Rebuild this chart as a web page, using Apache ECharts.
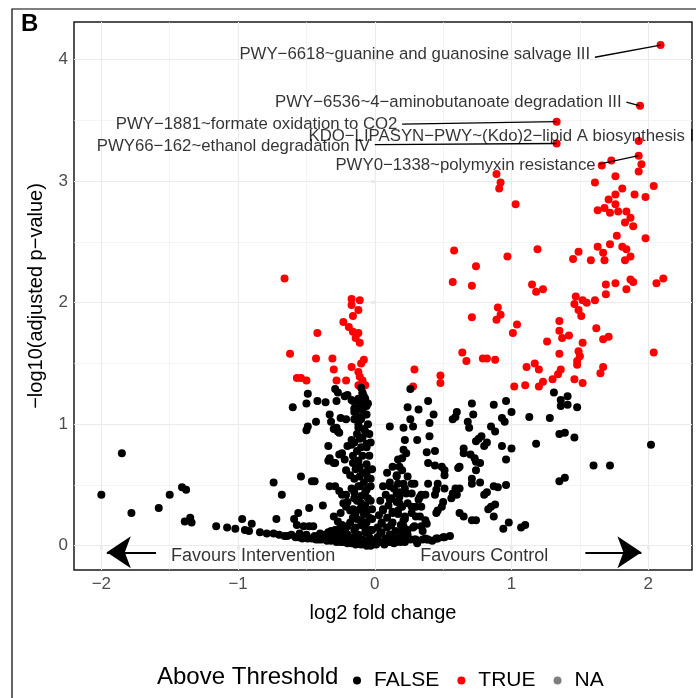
<!DOCTYPE html>
<html><head><meta charset="utf-8">
<script src="https://cdn.jsdelivr.net/npm/echarts@6/dist/echarts.min.js"></script>
<style>html,body{margin:0;padding:0;background:#fff}#c{width:696px;height:698px}</style>
</head><body><div id="c"></div>
<script>
const xTicks = [-2, -1, 0, 1, 2];
const yTicks = [0, 1, 2, 3, 4];
const xMinor = [-1.5, -0.5, 0.5, 1.5];
const yMinor = [0.5, 1.5, 2.5, 3.5];
const legendNames = ['FALSE', 'TRUE', 'NA'];

const trueVals = [
[2.09,4.12],[1.94,3.62],[1.33,3.49],[1.93,3.33],[1.33,3.31],[1.93,3.21],
[1.95,3.14],[1.93,3.08],[1.66,3.13],[1.73,3.17],[0.89,3.06],[0.92,2.99],[0.91,2.94],[1.03,2.81],[1.61,2.99],[1.76,3.04],[2.04,2.96],[1.81,2.94],[1.76,2.89],[1.90,2.89],[1.98,2.87],[1.71,2.85],[1.68,2.78],[1.76,2.81],[1.63,2.76],[1.72,2.74],[1.78,2.75],[1.84,2.75],[1.87,2.70],[1.83,2.66],[1.89,2.63],[1.77,2.55],[1.98,2.53],
[0.58,2.43],[1.19,2.44],[0.74,2.30],[0.97,2.38],[1.63,2.46],[1.72,2.48],[1.81,2.46],[1.84,2.44],[1.67,2.41],[1.49,2.42],[1.45,2.36],[1.58,2.35],[1.68,2.35],[1.87,2.38],[1.83,2.35],
[0.57,2.17],[0.71,2.14],[1.15,2.15],[1.18,2.09],[1.23,2.11],[1.69,2.15],[1.76,2.16],[1.69,2.07],[1.87,2.19],[1.89,2.17],[1.84,2.11],[2.06,2.16],[2.11,2.20],
[1.47,2.05],[1.46,1.99],[1.52,2.02],[1.55,2.00],[1.61,2.02],[1.49,1.94],[1.51,1.89],[1.35,1.85],[1.35,1.77],[1.37,1.71],[1.42,1.73],[1.62,1.79],[1.67,1.70],[1.71,1.72],[1.52,1.67],[1.26,1.68],
[0.90,1.96],[0.92,1.90],[0.89,1.86],[0.71,1.88],[1.04,1.82],[1.01,1.75],[2.04,1.59],
[0.64,1.59],[0.67,1.52],[0.79,1.54],[0.82,1.54],[0.88,1.53],[1.11,1.47],[1.17,1.50],[1.20,1.45],[1.35,1.58],[1.49,1.60],[1.50,1.56],[1.48,1.52],[1.48,1.49],[1.67,1.47],[1.65,1.42],[1.36,1.45],[1.34,1.41],[1.30,1.37],[1.46,1.37],[1.52,1.34],[1.23,1.35],[1.20,1.31],[1.10,1.32],[1.02,1.31],
[0.29,1.45],[0.28,1.31],[0.48,1.40],[0.48,1.34],
[-0.17,2.03],[-0.11,2.02],[-0.17,1.98],[-0.12,1.94],[-0.16,1.89],[-0.23,1.84],[-0.19,1.80],[-0.16,1.76],[-0.12,1.75],[-0.14,1.71],[-0.11,1.67],[-0.42,1.75],[-0.43,1.54],[-0.31,1.54],[-0.08,1.53],[-0.10,1.50],[-0.17,1.47],[-0.30,1.45],[-0.12,1.43],[-0.11,1.39],[-0.09,1.36],[-0.07,1.32],[-0.12,1.32],[-0.21,1.36],[-0.28,1.36],[-0.57,1.38],[-0.54,1.38],[-0.50,1.36],[-0.62,1.58],[-0.66,2.20]
];

const falseVals = [
[-2.00,0.42],[-1.85,0.76],[-1.78,0.27],[-1.58,0.31],[-1.50,0.42],[-1.41,0.48],[-1.38,0.46],[-1.39,0.20],[-1.35,0.23],[-1.34,0.19],[-1.16,0.16],[-1.08,0.15],[-1.02,0.14],[-0.97,0.22],[-0.95,0.13],[-0.92,0.12],[-0.90,0.18],[-0.84,0.11],[-0.79,0.10],[-0.74,0.10],[-0.74,0.52],[-0.68,0.42],[-0.72,0.22],[-0.66,0.08],[-0.61,0.09],[-0.60,1.14],[-0.59,0.22],[-0.57,0.17],[-0.56,0.27],[-0.54,0.57],[-0.56,0.07],[-0.51,0.07],[-0.48,0.31],[-0.46,0.53],[-0.44,0.53],[-0.46,0.06],[-0.43,0.05],[-0.52,0.16],[-0.48,0.16],[-0.45,0.16],[-0.38,0.33],[-0.39,0.05],[-0.34,0.11],[-0.32,0.12],[-0.37,0.07],[-0.30,0.05],[-0.26,0.14],[-0.25,0.27],[-0.23,0.35],[-0.21,0.32],[-0.21,0.10],[-0.23,0.03],[-0.26,0.45],[-0.24,0.42],[-0.33,0.49],[-0.29,0.49],[-0.34,0.70],[-0.30,0.68],[-0.26,0.75],[-0.34,0.82],[-0.20,0.82],[-0.30,0.96],[-0.28,0.97],[-0.27,0.94],[-0.32,1.02],[-0.33,1.08],[-0.25,1.05],[-0.21,1.04],[-0.43,1.02],[-0.50,0.95],[-0.49,0.98],[-0.50,1.17],[-0.49,1.25],[-0.42,1.19],[-0.36,1.18],[-0.29,1.29],[-0.27,1.26],[-0.22,1.23],
[-0.70,0.09],[-0.64,0.08],[-0.58,0.07],[-0.53,0.06],[-0.49,0.06],[-0.41,0.05],[-0.35,0.04],[-0.32,0.04],[-0.28,0.03],[-0.25,0.03],[-0.20,0.02],[-0.17,0.02],[-0.14,0.01],[-0.10,0.01],[-0.06,0.00],[-0.03,0.00],
[-0.55,0.10],[-0.50,0.09],[-0.44,0.08],[-0.40,0.10],[-0.36,0.09],[-0.31,0.08],[-0.27,0.07],[-0.24,0.06],
[-0.10,1.30],[-0.09,1.26],[-0.08,1.23],[-0.07,1.19],[-0.06,1.15],[-0.12,1.17],[-0.15,1.13],[-0.20,1.24],[-0.17,1.20],[-0.16,1.19],[-0.15,1.10],[-0.11,1.06],[-0.07,1.08],[-0.12,0.97],[-0.07,0.94],[-0.17,0.87],[-0.11,0.88],[-0.17,0.83],[-0.06,0.84],[-0.24,0.76],[-0.22,0.71],[-0.16,0.68],[-0.11,0.65],[-0.05,0.62],[-0.21,0.62],[-0.18,0.58],[-0.11,0.57],[-0.05,0.56],[-0.17,0.47],[-0.11,0.49],[-0.06,0.46],[-0.21,0.42],[-0.15,0.39],[-0.05,0.39],[-0.20,0.36],[-0.10,0.35],[-0.18,0.29],[-0.14,0.27],[-0.06,0.28],[-0.16,0.23],[-0.10,0.21],[-0.04,0.23],[-0.20,0.16],[-0.14,0.15],[-0.08,0.16],[-0.04,0.13],
[-0.28,1.19],[-0.07,1.16],[-0.26,0.93],[-0.33,0.72],[-0.29,0.68],
[-0.09,1.25],[-0.07,1.21],[-0.12,1.21],[-0.05,1.17],[-0.09,1.12],[-0.13,1.12],[-0.06,1.08],[-0.10,1.04],[-0.15,1.04],[-0.05,1.00],[-0.12,1.00],[-0.08,0.96],[-0.13,0.92],[-0.04,0.92],[-0.09,0.89],[-0.15,0.85],[-0.03,0.85],[-0.10,0.81],[-0.06,0.81],[-0.13,0.78],[-0.04,0.74],[-0.16,0.74],[-0.09,0.74],[-0.12,0.70],[-0.06,0.67],[-0.14,0.63],[-0.02,0.63],[-0.09,0.60],[-0.15,0.55],[-0.03,0.55],[-0.08,0.52],[-0.12,0.49],[-0.03,0.49],[-0.15,0.44],[-0.07,0.44],[-0.10,0.41],[-0.03,0.37],[-0.13,0.37],[-0.07,0.33],[-0.16,0.30],[-0.11,0.30],[-0.02,0.30],[-0.08,0.26],[-0.13,0.22],[-0.02,0.22],[-0.18,0.19],[-0.06,0.19],[-0.10,0.17],[-0.15,0.13],[-0.02,0.13],[-0.07,0.11],[-0.12,0.09],[-0.20,0.09],[-0.04,0.07],[-0.16,0.07],[-0.09,0.05],[-0.13,0.03],[-0.05,0.03],[-0.01,0.02],
[-0.30,0.24],[-0.27,0.20],[-0.24,0.17],[-0.29,0.13],[-0.22,0.12],[-0.26,0.09],[-0.19,0.06],[-0.23,0.05],
[0.13,0.65],[0.09,0.60],[0.16,0.58],[0.11,0.52],[0.06,0.49],[0.14,0.47],[0.18,0.44],[0.08,0.42],[0.12,0.39],[0.04,0.37],[0.16,0.36],[0.10,0.33],[0.20,0.32],[0.06,0.30],[0.13,0.28],[0.03,0.25],[0.17,0.26],[0.09,0.23],[0.22,0.22],[0.05,0.19],[0.13,0.19],[0.19,0.17],[0.02,0.15],[0.09,0.15],[0.15,0.12],[0.24,0.13],[0.05,0.11],[0.11,0.09],[0.20,0.09],[0.02,0.07],[0.08,0.06],[0.15,0.06],[0.26,0.05],[0.04,0.03],[0.11,0.03],[0.19,0.03],[0.01,0.01],[0.07,0.01],[0.14,0.02],
[0.18,0.65],[0.16,0.57],[0.21,0.51],[0.11,0.49],[0.27,0.51],[0.16,0.43],[0.23,0.43],[0.33,0.40],[0.11,0.38],[0.18,0.35],[0.27,0.32],[0.06,0.29],[0.13,0.27],[0.22,0.24],[0.30,0.24],[0.37,0.21],[0.05,0.18],[0.12,0.17],[0.21,0.16],[0.28,0.15],[0.34,0.16],[0.04,0.10],[0.11,0.09],[0.18,0.07],[0.24,0.06],[0.30,0.05],[0.38,0.05],[0.46,0.06],[0.51,0.07],[0.01,0.05],[0.09,0.03],[0.16,0.03],
[0.17,0.71],[0.20,0.62],[0.24,0.57],[0.17,0.51],[0.22,0.47],[0.29,0.51],[0.27,0.43],[0.18,0.40],[0.32,0.38],[0.24,0.35],[0.37,0.42],[0.34,0.32],[0.17,0.29],[0.27,0.27],[0.21,0.21],[0.33,0.24],[0.38,0.18],[0.29,0.16],[0.20,0.13],[0.24,0.09],[0.35,0.12],[0.22,0.03],[0.29,0.05],
[0.26,1.29],[0.39,1.19],[0.24,1.14],[0.32,1.12],[0.43,1.08],[0.26,1.04],[0.40,1.01],[0.28,0.98],[0.71,1.17],[0.60,1.10],[0.59,1.06],[0.57,1.04],[0.72,1.08],[0.68,1.02],[0.69,0.97],[0.87,1.16],[0.96,1.19],[0.93,1.05],[0.95,1.02],[0.85,0.98],[0.88,0.94],[0.22,0.87],[0.31,0.87],[0.40,0.90],[0.21,0.79],[0.23,0.76],[0.20,0.72],[0.38,0.77],[0.44,0.78],[0.39,0.68],[0.44,0.66],[0.49,0.65],[0.51,0.62],[0.51,0.58],[0.65,0.80],[0.65,0.76],[0.73,0.72],[0.74,0.69],[0.77,0.68],[0.76,0.88],[0.78,0.90],[0.74,0.86],[0.82,0.85],[0.80,0.82],[0.93,0.82],[0.96,0.71],[1.00,0.80],[0.62,0.65],[0.74,0.62],[0.71,0.55],[0.71,0.51],[0.77,0.52],[0.39,0.51],[0.46,0.51],[0.45,0.46],[0.51,0.47],[0.44,0.42],[0.50,0.36],[0.49,0.32],[0.45,0.27],[0.56,0.39],[0.57,0.43],[0.62,0.47],[0.60,0.42],[0.80,0.42],[0.82,0.44],[0.87,0.49],[0.90,0.48],[0.96,0.50],[0.85,0.32],[0.88,0.34],[0.87,0.24],[0.94,0.14],[0.62,0.27],[0.65,0.24],[0.71,0.21],[0.74,0.21],[0.37,0.06],[0.39,0.05],[0.45,0.06],[0.50,0.07],
[1.31,1.26],[1.36,1.20],[1.36,1.15],[1.41,1.23],[1.41,1.16],[1.48,1.14],[1.13,1.06],[1.28,1.05],[1.35,0.92],[1.39,0.93],[1.46,0.89],[1.18,0.84],[2.02,0.83],[1.60,0.66],[1.72,0.66],[1.35,0.53],[1.39,0.56],[1.00,1.10],[0.98,0.19],[1.07,0.15],[1.10,0.17],[0.83,0.30],[0.61,0.64],[0.70,0.75],[0.59,0.47],[0.46,0.29],[0.34,0.42],[0.30,0.32],[0.21,0.97],[0.11,0.98],
[0.35,0.05],[0.42,0.04],[0.55,0.08],[0.31,0.02]
];
const naVals = [];

const labelNames = [
  'PWY\u22126618~guanine and guanosine salvage III',
  'PWY\u22126536~4\u2212aminobutanoate degradation III',
  'PWY\u22121881~formate oxidation to CO2',
  'KDO\u2212LIPASYN\u2212PWY~(Kdo)2\u2212lipid A biosynthesis I',
  'PWY66\u2212162~ethanol degradation IV',
  'PWY0\u22121338~polymyxin resistance'
];
const labelAt = [[1.59,4.04],[1.82,3.65],[0.18,3.47],[-0.50,3.37],[-0.02,3.29],[1.63,3.13]];
const labelSide = ['left','left','left','right','left','left'];
const segFrom = [[1.61,4.02],[1.84,3.65],[0.20,3.47],null,[0.00,3.30],[1.64,3.14]];
const segTo = [[2.09,4.12],[1.94,3.62],[1.33,3.49],null,[1.33,3.31],[1.93,3.21]];

const noteTexts = ['Favours Intervention', 'Favours Control'];
const noteAt = [[-0.89,-0.085],[0.80,-0.085]];
const arrowFrom = [[-1.60,-0.054],[1.54,-0.054]];
const arrowTo = [[-1.96,-0.054],[1.95,-0.054]];

const FONT = '"Liberation Sans", Arial, Helvetica, sans-serif';
const minus = v => (v < 0 ? '\u2212' + Math.abs(v) : String(v));

const gridLines = [];
xTicks.forEach(v => gridLines.push({xAxis: v, lineStyle: {width: 1.1, color: '#EBEBEB', type: 'solid'}}));
yTicks.forEach(v => gridLines.push({yAxis: v, lineStyle: {width: 1.1, color: '#EBEBEB', type: 'solid'}}));
xMinor.forEach(v => gridLines.push({xAxis: v, lineStyle: {width: 0.6, color: '#EDEDED', type: 'solid'}}));
yMinor.forEach(v => gridLines.push({yAxis: v, lineStyle: {width: 0.6, color: '#EDEDED', type: 'solid'}}));

const segs = [];
segFrom.forEach((f, i) => { if (f) segs.push({coords: [f, segTo[i]]}); });

const chart = echarts.init(document.getElementById('c'), null, {renderer: 'canvas'});
chart.setOption({
  animation: false,
  backgroundColor: '#fff',
  textStyle: {fontFamily: FONT},
  grid: {left: 74, right: 4, top: 22, bottom: 128, show: true, borderColor: '#1a1a1a', borderWidth: 1.5, backgroundColor: '#fff'},
  xAxis: {
    type: 'value', min: -2.2, max: 2.32,
    axisLine: {show: false},
    axisTick: {show: true, length: 4, customValues: xTicks, lineStyle: {color: '#333', width: 1.2}},
    axisLabel: {customValues: xTicks, formatter: minus, color: '#4d4d4d', fontSize: 17, margin: 6, fontFamily: FONT},
    splitLine: {show: false},
    name: 'log2 fold change', nameLocation: 'middle', nameGap: 33,
    nameTextStyle: {fontSize: 20, color: '#000', fontFamily: FONT}
  },
  yAxis: {
    type: 'value', min: -0.2, max: 4.31,
    axisLine: {show: false},
    axisTick: {show: true, length: 4, customValues: yTicks, lineStyle: {color: '#333', width: 1.2}},
    axisLabel: {customValues: yTicks, formatter: minus, color: '#4d4d4d', fontSize: 17, margin: 6, fontFamily: FONT},
    splitLine: {show: false},
    name: '\u2212log10(adjusted p\u2212value)', nameLocation: 'middle', nameGap: 28, nameRotate: 90,
    nameTextStyle: {fontSize: 20, color: '#000', fontFamily: FONT}
  },
  legend: {
    data: legendNames, left: 348, top: 665, orient: 'horizontal', icon: 'circle',
    itemWidth: 24, itemHeight: 8, itemGap: 18, selectedMode: false,
    textStyle: {fontSize: 21, color: '#000', fontFamily: FONT}
  },
  graphic: [
    {type: 'polyline', shape: {points: [[12, 698], [12, 9], [696, 9]]}, style: {stroke: '#000', lineWidth: 1.2, fill: null}},
    {type: 'text', left: 21, top: 12, style: {text: 'B', font: 'bold 24px ' + FONT, fill: '#000'}},
    {type: 'text', left: 157, top: 665, style: {text: 'Above Threshold', font: '24px ' + FONT, fill: '#000'}}
  ],
  series: [
    {name: 'grid', type: 'scatter', data: [], z: 0, silent: true,
     markLine: {silent: true, z: 1, symbol: ['none', 'none'], label: {show: false}, animation: false, data: gridLines}},
    {name: 'TRUE', type: 'scatter', data: trueVals, symbolSize: 8, itemStyle: {color: '#FF0000', opacity: 1}, z: 2, silent: true},
    {name: 'FALSE', type: 'scatter', data: falseVals, symbolSize: 8, itemStyle: {color: '#000000', opacity: 1}, z: 3, silent: true},
    {name: 'NA', type: 'scatter', data: naVals, symbolSize: 8, itemStyle: {color: '#7F7F7F', opacity: 1}, z: 3, silent: true},
    {name: 'leaders', type: 'lines', coordinateSystem: 'cartesian2d', data: segs, z: 4, silent: true,
     lineStyle: {color: '#000', width: 1.3, opacity: 1}, symbol: ['none', 'none']},
    {name: 'arrows', type: 'lines', coordinateSystem: 'cartesian2d', z: 4, silent: true,
     data: arrowFrom.map((f, i) => ({coords: [f, arrowTo[i]]})),
     lineStyle: {color: '#000', width: 2, opacity: 1}, symbol: ['none', 'arrow'], symbolSize: [20, 24]},
    {name: 'labels', type: 'scatter', symbolSize: 0, z: 5, silent: true,
     data: labelAt.map((p, i) => ({value: p, name: labelNames[i], label: {position: labelSide[i]}})),
     label: {show: true, formatter: p => p.name, fontSize: 16.8, color: '#000', distance: 2, fontFamily: FONT}},
    {name: 'notes', type: 'scatter', symbolSize: 0, z: 5, silent: true,
     data: noteAt.map((p, i) => ({value: p, name: noteTexts[i]})),
     label: {show: true, position: 'inside', formatter: p => p.name, fontSize: 18, color: '#000', fontFamily: FONT}}
  ]
});
</script>
</body></html>
